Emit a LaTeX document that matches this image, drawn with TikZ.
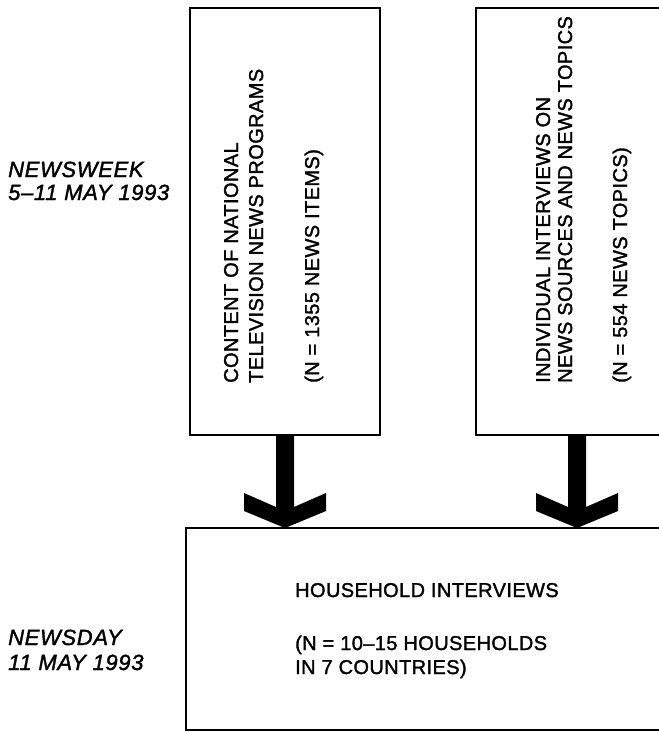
\documentclass[tikz,border=0pt]{standalone}
\usepackage{fontspec}
\setmainfont{Liberation Sans}
\newfontfamily\boxfont{Liberation Sans}[LetterSpace=2.0, FakeBold=1.6]
\newfontfamily\sidefont{Liberation Sans}[LetterSpace=3.0, ItalicFeatures={FakeBold=1.6}]
\usetikzlibrary{calc}
\begin{document}
\begin{tikzpicture}[x=1pt,y=-1pt,
  box/.style={draw, line width=2.6pt, rectangle, outer sep=0pt, inner sep=0pt},
  txt/.style={font=\boxfont\fontsize{20}{23}\selectfont, inner sep=0pt, anchor=base west},
  vtxt/.style={txt, rotate=90},
  side/.style={font=\sidefont\itshape\fontsize{22}{24}\selectfont, inner sep=0pt, anchor=base west},
  fatarrow/.style={to path={let \p1=(\tikztostart), \p2=(\tikztotarget) in
    (\x1-9pt,\y1) -- (\x1+9pt,\y1) -- (\x1+9pt,\y2+21pt) -- (\x1+41pt,\y2+35pt)
    -- (\x1+41pt,\y2+17pt) -- (\x1,\y2) -- (\x1-41pt,\y2+17pt) -- (\x1-41pt,\y2+35pt)
    -- (\x1-9pt,\y2+21pt) -- cycle}}
]
\useasboundingbox (0,0) rectangle (659,732);
\clip (0,0) rectangle (659,732);
\fill[white] (0,0) rectangle (659,732);

\node[box, minimum width=190pt, minimum height=427pt] (b1) at (285,221.5) {};
\node[box, minimum width=202pt, minimum height=427pt] (b2) at (577,221.5) {};
\node[box, minimum width=560pt, minimum height=202pt] (b3) at (466,629) {};

\node[vtxt] (t1a) at (238,383) {CONTENT OF NATIONAL};
\node[vtxt] (t1b) at (263,383) {TELEVISION NEWS PROGRAMS};
\node[vtxt] (t1c) at (319,383) {(N = 1355 NEWS ITEMS)};

\node[vtxt] (t2a) at (550,383) {INDIVIDUAL INTERVIEWS ON};
\node[vtxt] (t2b) at (572,383) {NEWS SOURCES AND NEWS TOPICS};
\node[vtxt] (t2c) at (627,383) {(N = 554 NEWS TOPICS)};

\node[txt] (t3a) at (295,597) {HOUSEHOLD INTERVIEWS};
\node[txt] (t3b) at (295,650) {(N = 10–15 HOUSEHOLDS};
\node[txt] (t3c) at (295,674) {IN 7 COUNTRIES)};

\node[side] (l1a) at (8,177) {NEWSWEEK};
\node[side] (l1b) at (8,200) {5–11 MAY 1993};
\node[side] (l2a) at (8,645) {NEWSDAY};
\node[side] (l2b) at (8,670) {11 MAY 1993};

\path[fill=black, fatarrow] (b1.south) to (b3.north -| b1.south);
\path[fill=black, fatarrow] (b2.south) to (b3.north -| b2.south);
\end{tikzpicture}
\end{document}
